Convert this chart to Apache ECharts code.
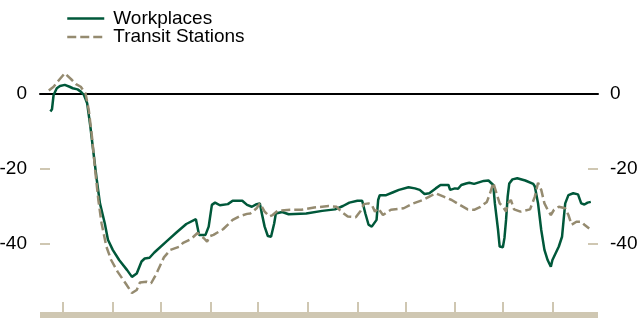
<!DOCTYPE html>
<html>
<head>
<meta charset="utf-8">
<script src="https://cdn.jsdelivr.net/npm/echarts@6/dist/echarts.min.js"></script>
<style>
  html, body { margin: 0; padding: 0; background: #fff; }
  #chart { width: 641px; height: 318px; }
</style>
</head>
<body>
<div id="chart"></div>
<script>
// 7-day average change from baseline (%)
var workDates = ['2020-02-22', '2020-02-23', '2020-02-24', '2020-02-26', '2020-02-28', '2020-03-02', '2020-03-05', '2020-03-07', '2020-03-10', '2020-03-12', '2020-03-14', '2020-03-16', '2020-03-18', '2020-03-20', '2020-03-22', '2020-03-24', '2020-03-27', '2020-03-29', '2020-04-01', '2020-04-05', '2020-04-10', '2020-04-13', '2020-04-16', '2020-04-19', '2020-04-21', '2020-04-24', '2020-04-27', '2020-05-05', '2020-05-11', '2020-05-17', '2020-05-23', '2020-05-24', '2020-05-25', '2020-05-29', '2020-05-31', '2020-06-02', '2020-06-04', '2020-06-07', '2020-06-12', '2020-06-15', '2020-06-21', '2020-06-24', '2020-06-27', '2020-06-30', '2020-07-02', '2020-07-03', '2020-07-05', '2020-07-07', '2020-07-09', '2020-07-11', '2020-07-12', '2020-07-16', '2020-07-20', '2020-07-31', '2020-08-10', '2020-08-18', '2020-08-23', '2020-08-27', '2020-09-01', '2020-09-04', '2020-09-05', '2020-09-06', '2020-09-08', '2020-09-10', '2020-09-13', '2020-09-14', '2020-09-15', '2020-09-19', '2020-09-23', '2020-09-27', '2020-10-03', '2020-10-07', '2020-10-10', '2020-10-13', '2020-10-16', '2020-10-20', '2020-10-23', '2020-10-28', '2020-10-29', '2020-11-01', '2020-11-03', '2020-11-05', '2020-11-08', '2020-11-10', '2020-11-13', '2020-11-19', '2020-11-22', '2020-11-23', '2020-11-25', '2020-11-26', '2020-11-28', '2020-11-29', '2020-12-01', '2020-12-02', '2020-12-03', '2020-12-04', '2020-12-05', '2020-12-07', '2020-12-10', '2020-12-15', '2020-12-20', '2020-12-21', '2020-12-23', '2020-12-25', '2020-12-27', '2020-12-29', '2020-12-31', '2021-01-01', '2021-01-03', '2021-01-05', '2021-01-07', '2021-01-08', '2021-01-09', '2021-01-11', '2021-01-14', '2021-01-17', '2021-01-19', '2021-01-21', '2021-01-23', '2021-01-25'];
var workValues = [-4.8, -4.2, -0.4, 1.4, 2.0, 2.3, 1.8, 1.4, 1.1, 0.5, -0.4, -2.6, -8.8, -16, -23, -29.3, -34.6, -39, -41.7, -44.4, -47.1, -48.9, -48, -44.8, -44, -43.8, -42.4, -39.3, -37, -34.8, -33.5, -33.4, -37.7, -37.7, -35.5, -29.7, -29.1, -29.8, -29.5, -28.6, -28.6, -29.7, -30.2, -29.5, -29.3, -31.5, -35.5, -38, -38.2, -34.6, -32, -31.6, -32.2, -32, -31.3, -30.9, -30, -29.1, -28.6, -28.6, -28.9, -32, -35, -35.5, -33.7, -28.4, -27.1, -27.1, -26.4, -25.7, -25, -25.3, -25.7, -26.8, -26.6, -25.3, -24.4, -24.4, -25.7, -25.3, -25.4, -24.4, -24, -23.8, -24.1, -23.3, -23.2, -22.9, -24.4, -29.3, -36.4, -40.8, -41, -38.5, -33.7, -27.5, -24, -22.9, -22.6, -23.2, -24.1, -24.8, -29.3, -36.4, -41.7, -44.4, -46.2, -44.4, -42.6, -40.8, -38.2, -33.7, -29.3, -27.1, -26.6, -26.9, -29.3, -29.6, -29.1, -28.9];

var transitDates = ['2020-02-21', '2020-02-24', '2020-02-27', '2020-03-02', '2020-03-06', '2020-03-09', '2020-03-12', '2020-03-15', '2020-03-17', '2020-03-19', '2020-03-21', '2020-03-23', '2020-03-25', '2020-03-28', '2020-03-31', '2020-04-04', '2020-04-09', '2020-04-13', '2020-04-16', '2020-04-18', '2020-04-22', '2020-04-25', '2020-04-28', '2020-05-03', '2020-05-07', '2020-05-13', '2020-05-15', '2020-05-20', '2020-05-24', '2020-05-28', '2020-05-30', '2020-06-01', '2020-06-03', '2020-06-09', '2020-06-15', '2020-06-19', '2020-06-24', '2020-06-26', '2020-06-30', '2020-07-02', '2020-07-03', '2020-07-05', '2020-07-08', '2020-07-10', '2020-07-13', '2020-07-21', '2020-07-28', '2020-08-05', '2020-08-14', '2020-08-19', '2020-08-22', '2020-08-26', '2020-08-31', '2020-09-03', '2020-09-05', '2020-09-08', '2020-09-10', '2020-09-12', '2020-09-14', '2020-09-17', '2020-09-22', '2020-09-30', '2020-10-06', '2020-10-12', '2020-10-16', '2020-10-20', '2020-10-25', '2020-10-30', '2020-11-04', '2020-11-09', '2020-11-13', '2020-11-17', '2020-11-21', '2020-11-23', '2020-11-25', '2020-11-27', '2020-11-29', '2020-12-01', '2020-12-03', '2020-12-04', '2020-12-06', '2020-12-08', '2020-12-12', '2020-12-18', '2020-12-21', '2020-12-23', '2020-12-25', '2020-12-27', '2020-12-29', '2020-12-31', '2021-01-02', '2021-01-05', '2021-01-09', '2021-01-11', '2021-01-13', '2021-01-16', '2021-01-19', '2021-01-21', '2021-01-24'];
var transitValues = [0.8, 1.8, 3.4, 5.4, 3.8, 2.5, 1.8, 0, -4.4, -11.5, -20.4, -28.4, -34.6, -40.8, -44.4, -47.5, -50.6, -53.2, -52.4, -50.4, -50.2, -50.6, -48.3, -43.7, -41.7, -40.8, -39.8, -38.8, -37.2, -38.6, -39.5, -38, -37.7, -36.2, -33.7, -32.8, -32.1, -32, -30.6, -29.3, -30, -31.5, -32.8, -32.4, -31.3, -31, -31, -30.4, -30, -30.2, -31.5, -32.8, -33, -31.3, -29.5, -29.3, -29.7, -31.5, -30.6, -32.4, -31, -30.6, -29.3, -28.4, -27.5, -26.6, -27.5, -28.4, -29.7, -30.9, -31, -30.2, -28.9, -26.6, -23.8, -26.6, -29.3, -30.2, -31.5, -29.3, -28.4, -30.9, -31.5, -30.9, -27.5, -23.8, -25.7, -29.3, -31, -32.4, -31, -30.2, -30.6, -32.4, -35, -34.2, -34.2, -35, -36];

var monthTicks = ['2020-03-01', '2020-04-01', '2020-05-01', '2020-06-01', '2020-07-01', '2020-08-01', '2020-09-01', '2020-10-01', '2020-11-01', '2020-12-01', '2021-01-01'];
var yLabels = [0, -20, -40];
var yTicks = [-20, -40];

var chartDom = document.getElementById('chart');
var myChart = echarts.init(chartDom);

var font = '"Liberation Sans", Arial, sans-serif';
var beige = '#cfc7b2';
var green = '#00583a';
var tan = '#958b70';
var xMin = echarts.time.parse('2020-02-15 12:00');
var xMax = echarts.time.parse('2021-01-29 12:00');

function zip(dates, values) {
  return dates.map(function (d, i) { return [echarts.time.parse(d), values[i]]; });
}

var yAxisBase = function (pos, margin) {
  return {
    type: 'value',
    position: pos,
    min: -59.33,
    max: 10,
    axisLine: { show: false },
    axisTick: {
      show: true,
      inside: true,
      length: 10,
      customValues: yTicks,
      lineStyle: { color: beige, width: 2 }
    },
    axisLabel: {
      customValues: yLabels,
      margin: margin,
      fontSize: 19,
      fontFamily: font,
      color: '#000'
    },
    splitLine: { show: false }
  };
};

var option = {
  animation: false,
  textStyle: { fontFamily: font },
  legend: {
    orient: 'vertical',
    left: 66,
    top: 9,
    padding: 0,
    itemWidth: 37,
    itemHeight: 14,
    itemGap: -0.6,
    itemStyle: { opacity: 0 },
    lineStyle: { width: 2.5 },
    textStyle: {
      fontSize: 19,
      lineHeight: 19,
      color: '#000',
      fontFamily: font,
      padding: [0, 0, 0, 4]
    },
    data: ['Workplaces', 'Transit Stations']
  },
  grid: {
    left: 40,
    right: 43,
    top: 56,
    bottom: 2,
    containLabel: false,
    outerBoundsMode: 'none'
  },
  xAxis: [{
    type: 'time',
    position: 'top',
    min: xMin,
    max: xMax,
    axisLine: { onZero: true, lineStyle: { color: '#000', width: 2 } },
    axisTick: { show: false },
    axisLabel: { show: false },
    splitLine: { show: false }
  }, {
    type: 'time',
    position: 'bottom',
    min: xMin,
    max: xMax,
    axisLine: { onZero: false, lineStyle: { color: beige, width: 8, cap: 'butt' } },
    axisTick: {
      show: true,
      inside: true,
      length: 14,
      customValues: monthTicks.map(function (d) { return echarts.time.parse(d); }),
      lineStyle: { color: beige, width: 2 }
    },
    axisLabel: { show: false },
    splitLine: { show: false }
  }],
  yAxis: [yAxisBase('left', 13), yAxisBase('right', 12)],
  series: [{
    name: 'Workplaces',
    type: 'line',
    xAxisIndex: 0,
    yAxisIndex: 0,
    symbol: 'none',
    lineStyle: { color: green, width: 2.5 },
    itemStyle: { color: green },
    data: zip(workDates, workValues)
  }, {
    name: 'Transit Stations',
    type: 'line',
    xAxisIndex: 0,
    yAxisIndex: 0,
    symbol: 'none',
    lineStyle: { color: tan, width: 2.5, type: [9, 4] },
    itemStyle: { color: tan },
    data: zip(transitDates, transitValues)
  }]
};

option && myChart.setOption(option);
</script>
</body>
</html>
